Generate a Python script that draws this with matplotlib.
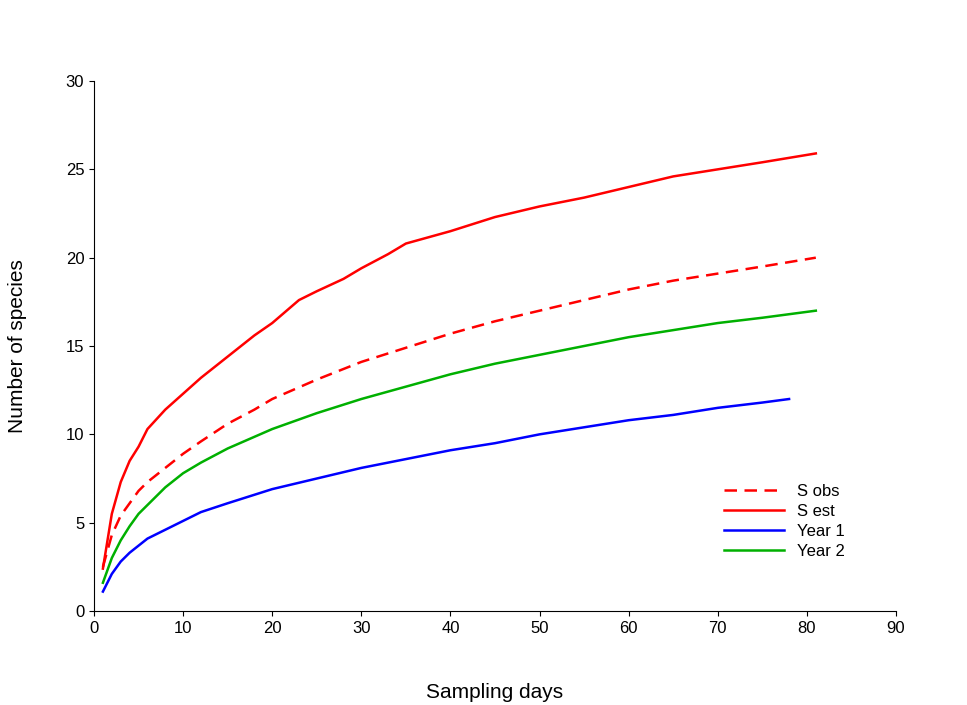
import matplotlib
matplotlib.use("Agg")
import matplotlib.pyplot as plt

days_sest = [1,2,3,4,5,6,8,10,12,15,18,20,23,25,28,30,33,35,40,45,50,55,60,65,70,75,81]
sest = [2.4,5.5,7.3,8.5,9.3,10.3,11.4,12.3,13.2,14.4,15.6,16.3,17.6,18.1,18.8,19.4,20.2,20.8,21.5,22.3,22.9,23.4,24.0,24.6,25.0,25.4,25.9]
days_sobs = [1,2,3,4,5,6,8,10,12,15,18,20,25,30,35,40,45,50,55,60,65,70,75,81]
sobs = [2.5,4.3,5.4,6.1,6.8,7.3,8.1,8.9,9.6,10.6,11.4,12.0,13.1,14.1,14.9,15.7,16.4,17.0,17.6,18.2,18.7,19.1,19.5,20.0]
days_y2 = [1,2,3,4,5,6,8,10,12,15,20,25,30,35,40,45,50,55,60,65,70,75,81]
year2 = [1.6,3.0,4.0,4.8,5.5,6.0,7.0,7.8,8.4,9.2,10.3,11.2,12.0,12.7,13.4,14.0,14.5,15.0,15.5,15.9,16.3,16.6,17.0]
days_y1 = [1,2,3,4,5,6,8,10,12,15,20,25,30,35,40,45,50,55,60,65,70,75,78]
year1 = [1.1,2.1,2.8,3.3,3.7,4.1,4.6,5.1,5.6,6.1,6.9,7.5,8.1,8.6,9.1,9.5,10.0,10.4,10.8,11.1,11.5,11.8,12.0]

plt.rcParams['font.family'] = ['Arial', 'Liberation Sans', 'DejaVu Sans']
fig = plt.figure(figsize=(9.67, 7.05), dpi=100)
ax = fig.add_axes([0.0972, 0.1333, 0.8294, 0.7518])
ax.plot(days_sobs, sobs, color='red', ls=(0, (5, 3)), lw=1.8, label='S obs')
ax.plot(days_sest, sest, color='red', lw=1.8, label='S est')
ax.plot(days_y1, year1, color='blue', lw=1.8, label='Year 1')
ax.plot(days_y2, year2, color='#00b000', lw=1.8, label='Year 2')
ax.set_xlim(0, 90)
ax.set_ylim(0, 30)
ax.set_xticks(range(0, 91, 10))
ax.set_yticks(range(0, 31, 5))
for s in ['top', 'right']:
    ax.spines[s].set_visible(False)
ax.tick_params(direction='out', labelsize=12)
ax.set_xlabel('Sampling days', fontsize=15, labelpad=34)
ax.set_ylabel('Number of species', fontsize=15, labelpad=28)
ax.legend(loc='lower right', bbox_to_anchor=(0.955, 0.07), frameon=False, fontsize=12,
          handlelength=3.6, labelspacing=0.3)
fig.savefig('out.png', dpi=100)
